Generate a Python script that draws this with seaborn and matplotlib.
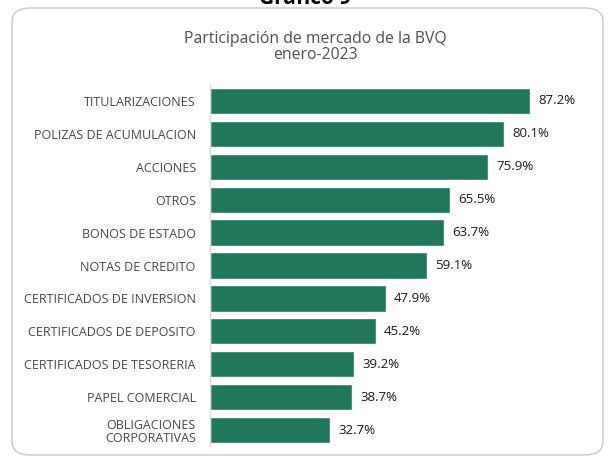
import matplotlib
matplotlib.use("Agg")
import matplotlib.pyplot as plt
from matplotlib.patches import FancyBboxPatch
import seaborn as sns

# Data
categories = [
    "TITULARIZACIONES",
    "POLIZAS DE ACUMULACION",
    "ACCIONES",
    "OTROS",
    "BONOS DE ESTADO",
    "NOTAS DE CREDITO",
    "CERTIFICADOS DE INVERSION",
    "CERTIFICADOS DE DEPOSITO",
    "CERTIFICADOS DE TESORERIA",
    "PAPEL COMERCIAL",
    "OBLIGACIONES\nCORPORATIVAS",
]
shares = [87.2, 80.1, 75.9, 65.5, 63.7, 59.1, 47.9, 45.2, 39.2, 38.7, 32.7]

title = "Participación de mercado de la BVQ\nenero-2023"
header = "Gráfico 9"

BAR_COLOR = "#20775B"
TEXT_GRAY = "#474747"

sns.set_theme(style="white")
plt.rcParams["font.family"] = ["Open Sans", "DejaVu Sans"]

fig = plt.figure(figsize=(6.08, 4.57), dpi=100)
ax = fig.add_axes([0.345, 0.023, 0.604, 0.792])

sns.barplot(x=shares, y=categories, orient="h", color=BAR_COLOR,
            saturation=1, width=0.8, ax=ax)

ax.bar_label(ax.containers[0], fmt="%.1f%%", padding=6,
             fontsize=9.5, color="#1a1a1a")

ax.set_xlim(0, 100)
ax.set_ylim(len(categories) - 0.5, -0.5)
ax.set_xticks([])
ax.set_xlabel("")
ax.set_ylabel("")
for side in ["top", "right", "bottom"]:
    ax.spines[side].set_visible(False)
ax.spines["left"].set_color("#d9d9d9")
ax.spines["left"].set_linewidth(1)
ax.tick_params(axis="y", length=0, pad=10, labelsize=9, labelcolor=TEXT_GRAY)
for lbl in ax.get_yticklabels():
    lbl.set_multialignment("center")
    lbl.set_linespacing(1.05)

# rounded frame around the chart
frame = FancyBboxPatch((12 / 608, 2 / 457), 591 / 608, 447 / 457,
                       boxstyle="round,pad=0,rounding_size=0.03",
                       transform=fig.transFigure, facecolor="none",
                       edgecolor="#c8c8c8", linewidth=1, zorder=0)
fig.patches.append(frame)

fig.text(315 / 608, 1 - 47 / 457, title, ha="center", va="center",
         fontsize=11.3, color="#505050", linespacing=1.05)
fig.text(305 / 608, 1 + 1 / 457, header, ha="center", va="center",
         fontsize=15, fontweight="bold", color="#000000")

fig.savefig("out.png", dpi=100)
